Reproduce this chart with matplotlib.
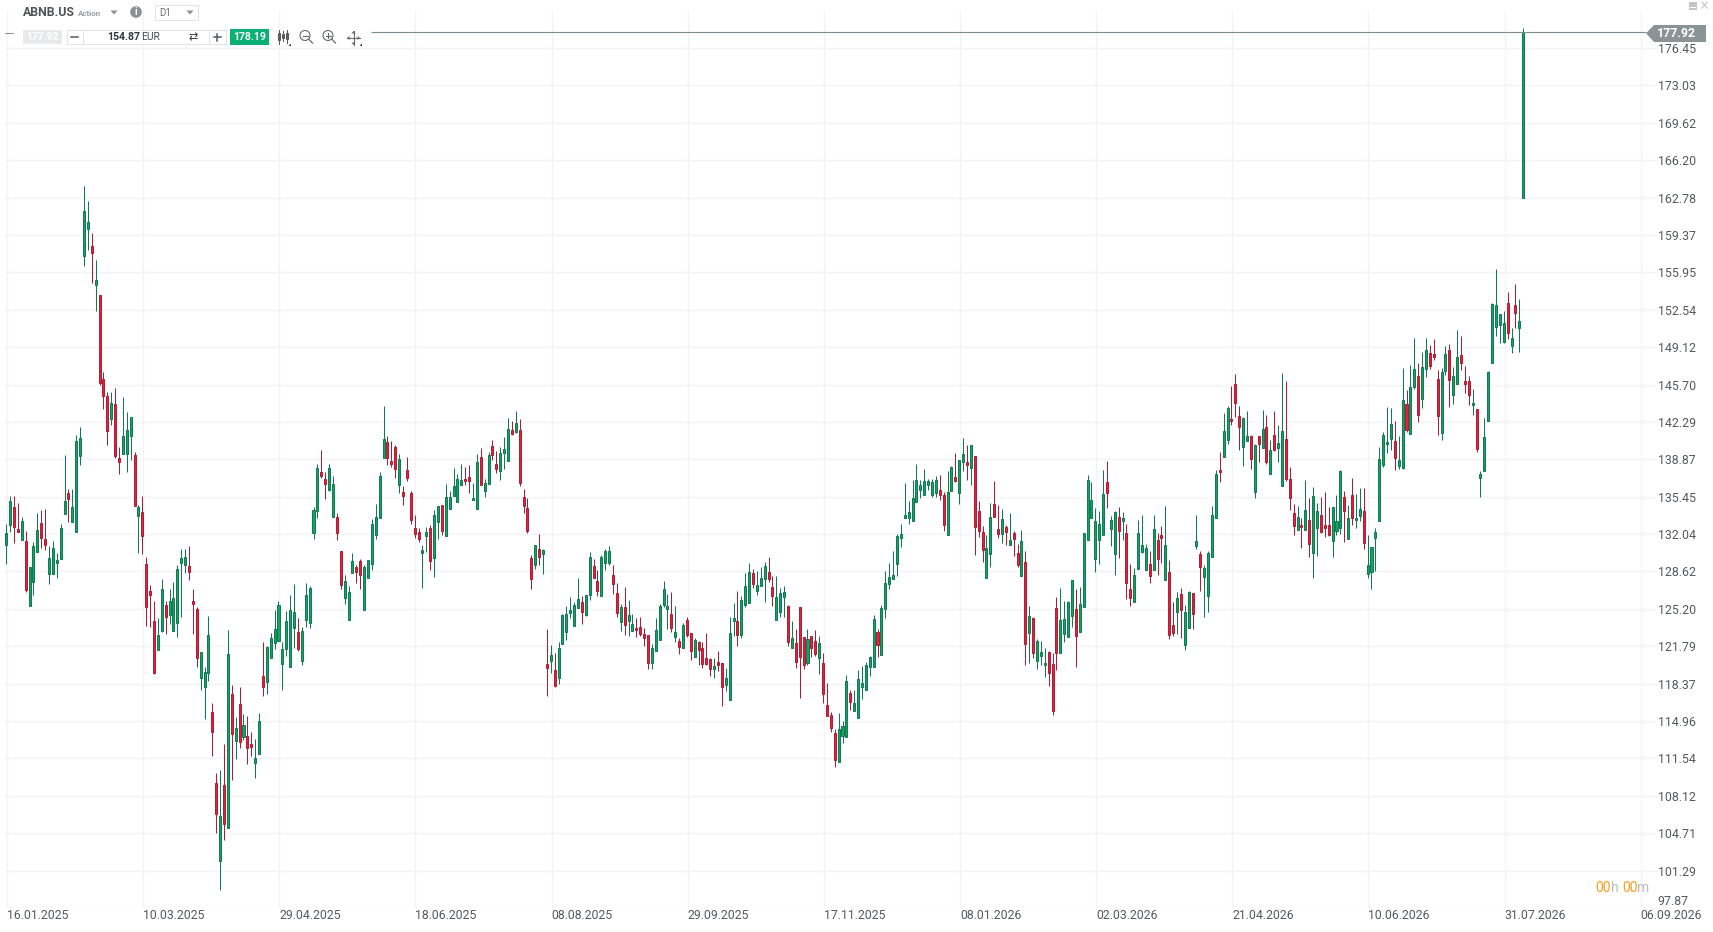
import matplotlib
matplotlib.use("Agg")
import matplotlib.pyplot as plt
from matplotlib.patches import Circle, Polygon, Rectangle

plt.rcParams["font.family"] = ["Roboto", "DejaVu Sans"]

price_ticks = [176.45, 173.03, 169.62, 166.20, 162.78, 159.37, 155.95, 152.54, 149.12, 145.70,
               142.29, 138.87, 135.45, 132.04, 128.62, 125.20, 121.79, 118.37, 114.96, 111.54,
               108.12, 104.71, 101.29, 97.87]
date_labels = ["16.01.2025", "10.03.2025", "29.04.2025", "18.06.2025", "08.08.2025", "29.09.2025",
               "17.11.2025", "08.01.2026", "02.03.2026", "21.04.2026", "10.06.2026", "31.07.2026",
               "06.09.2026"]
candles_per_label = 35

highs = [
    132.96,135.5,135.5,134.85,133.56,132.31,129.04,131.32,133.95,134.21,
    134.34,130.93,131.41,130.29,133.0,139.25,136.15,136.15,141.06,141.79,
    163.82,162.44,159.51,157.05,153.86,146.84,144.98,144.98,145.37,139.98,
    144.55,143.17,142.74,139.51,134.68,135.5,129.94,127.4,125.93,124.38,
    127.92,125.93,127.01,127.66,129.25,130.67,130.67,130.93,127.01,125.37,
    121.28,119.9,124.55,116.58,110.2,110.5,112.88,123.26,118.26,115.33,
    118.05,115.59,115.42,113.95,113.31,115.68,122.18,121.84,122.99,125.12,
    125.93,122.18,125.03,126.49,127.47,124.39,123.56,127.56,127.31,134.54,
    138.48,139.76,137.71,138.48,137.35,133.96,130.49,128.29,127.31,130.33,
    129.24,129.79,129.24,129.66,133.44,134.79,137.71,143.75,141.04,140.58,
    140.22,139.39,136.43,139.09,135.98,133.81,132.59,131.07,132.68,132.9,
    134.21,134.6,134.7,136.65,135.98,138.11,137.56,138.48,138.2,138.39,
    136.74,139.39,139.91,137.1,139.55,140.67,139.67,140.0,140.95,142.6,
    142.38,143.3,142.56,136.16,135.34,130.12,131.04,132.07,130.67,123.38,
    121.92,121.15,122.19,124.75,125.45,126.28,125.82,128.02,126.4,126.46,
    130.43,129.78,128.78,130.15,130.7,130.94,129.21,127.59,125.67,127.22,
    126.03,124.75,124.39,124.48,123.47,122.8,121.98,124.39,125.67,127.77,
    126.58,126.77,125.45,122.53,123.93,124.45,122.98,122.53,122.25,122.16,
    123.01,120.7,120.7,121.37,120.24,119.78,124.45,125.76,126.86,126.37,
    128.5,129.42,128.84,128.69,129.05,129.51,129.97,128.23,128.23,127.1,
    127.31,125.55,124.11,123.38,125.36,122.65,123.38,122.71,123.26,122.74,
    121.15,118.44,115.75,114.2,115.69,114.96,119.17,117.8,117.77,119.63,
    120.01,120.38,120.93,124.68,123.4,125.54,128.62,129.35,130.48,132.0,
    132.95,136.7,135.05,136.97,138.44,136.97,137.98,137.07,137.07,137.34,
    137.43,135.85,137.8,138.25,139.44,138.8,140.79,140.18,140.15,139.14,
    135.05,132.73,131.94,134.84,136.88,134.66,134.32,132.83,133.95,132.28,
    131.09,132.4,130.48,125.44,124.47,122.49,122.24,121.66,121.39,121.14,
    126.33,127.15,125.9,125.96,127.88,127.0,127.24,132.09,137.4,136.76,
    134.41,134.11,137.89,138.68,133.65,134.11,134.47,134.01,132.92,129.26,
    128.98,133.31,133.75,131.15,130.45,133.75,132.1,132.8,134.57,129.69,
    125.79,126.76,127.07,125.57,126.88,126.67,133.75,130.45,129.23,130.51,
    134.57,137.92,139.57,143.14,143.78,145.61,146.65,143.72,142.77,143.26,
    141.13,140.24,141.04,143.35,142.9,140.67,143.26,141.98,146.74,146.01,
    138.14,134.81,134.57,133.53,137.01,135.3,136.31,134.9,135.39,135.85,
    134.48,134.54,135.58,137.92,135.94,134.66,137.13,135.67,136.22,136.22,
    131.92,130.88,132.56,140.03,141.4,143.63,143.51,142.41,141.04,147.2,
    145.18,147.47,149.94,147.65,148.66,149.94,149.3,149.85,147.07,147.19,
    149.2,149.39,147.28,150.67,150.12,147.37,146.46,145.27,143.5,137.77,
    142.62,146.98,153.11,156.25,152.1,152.41,154.15,150.85,154.85,153.47,
    178.3,
]
lows = [
    129.34,132.27,131.23,132.18,131.45,126.71,125.42,126.45,130.42,130.8,
    130.55,127.49,128.35,128.05,129.73,133.91,133.17,133.17,132.27,138.35,
    156.53,157.96,154.98,152.44,145.67,143.48,140.16,142.01,139.0,137.53,
    139.38,137.7,138.82,134.64,130.29,130.2,123.65,123.56,119.21,121.41,
    123.13,122.92,123.82,123.22,122.66,124.43,128.52,127.87,122.92,119.9,
    117.83,115.16,118.65,111.75,104.73,99.47,104.08,105.16,109.56,111.5,
    112.49,113.22,111.02,111.75,109.77,111.97,117.23,117.44,120.67,121.54,
    122.31,117.83,120.94,119.93,121.64,121.31,120.03,123.56,123.41,131.55,
    133.48,137.14,135.28,135.95,133.57,131.46,126.98,125.61,124.14,128.44,
    127.59,126.98,125.06,127.99,128.78,131.55,133.48,138.97,138.32,138.14,
    137.14,135.83,134.67,136.86,132.93,131.65,131.28,127.13,130.37,128.78,
    128.14,131.55,131.92,131.86,134.33,135.52,134.97,136.53,136.56,135.83,
    135.15,134.33,136.49,135.4,136.59,138.84,137.59,136.95,137.99,138.72,
    141.13,141.25,136.4,133.93,132.1,126.98,128.81,129.17,128.35,117.28,
    119.32,118.1,118.32,121.95,122.4,124.33,123.62,125.27,123.84,124.54,
    125.97,127.99,126.34,126.34,128.72,129.18,126.52,124.48,123.14,122.83,
    122.68,123.14,122.62,122.68,121.85,119.75,119.75,121.34,122.4,125.33,
    123.32,123.05,122.16,121.12,121.61,122.62,120.57,120.76,120.03,119.84,
    120.03,119.08,118.93,119.57,116.37,117.74,116.91,122.68,121.85,122.5,
    125.36,125.73,127.13,126.43,127.25,125.79,127.62,125.48,124.23,124.45,
    124.42,121.79,121.61,119.84,117.1,119.75,120.03,120.76,120.94,119.29,
    116.64,115.39,113.99,110.78,111.24,112.98,113.53,115.97,115.91,115.21,
    116.97,117.79,119.07,119.92,120.81,120.99,124.38,127.03,127.95,128.22,
    130.87,133.53,132.98,133.25,134.93,135.36,135.63,136.09,135.42,135.42,
    135.17,132.31,131.97,135.98,136.79,134.81,137.83,137.0,136.55,130.14,
    131.79,129.5,128.04,129.04,133.56,131.7,131.24,131.06,131.06,130.05,
    129.04,128.22,120.08,120.26,120.72,119.71,120.08,118.98,118.16,115.5,
    119.62,121.17,122.18,122.64,123.55,119.89,123.13,125.41,131.54,133.47,
    128.59,129.32,131.91,134.44,130.97,128.31,129.87,131.51,126.12,125.47,
    125.87,128.89,130.27,128.77,127.55,128.77,128.29,129.38,127.86,122.43,
    122.7,122.89,122.52,121.42,123.47,123.35,130.63,126.82,124.44,124.9,
    129.93,133.53,136.8,139.11,140.27,142.04,142.74,139.72,138.26,140.58,
    137.99,135.33,138.63,139.94,138.44,137.56,139.66,138.63,136.46,136.89,
    134.2,131.95,132.43,130.76,132.43,129.93,128.01,130.03,132.16,131.76,
    131.85,129.93,131.98,132.01,131.31,131.61,132.89,132.62,133.26,130.67,
    128.04,126.98,128.65,133.26,138.17,139.45,139.72,137.89,138.02,138.02,
    141.34,141.22,145.3,142.28,143.53,146.37,147.1,147.92,141.1,140.63,
    146.58,143.65,143.93,145.79,147.04,144.93,143.84,142.92,139.54,135.42,
    137.8,142.37,147.68,150.12,149.48,149.48,149.85,148.56,150.85,148.69,
    162.78,
]
opens = [
    131.06,132.83,134.51,132.49,131.45,131.41,125.42,127.7,130.42,133.05,
    131.58,128.35,128.35,129.43,129.73,133.91,135.76,133.17,132.27,139.21,
    157.48,159.94,158.34,154.81,153.86,146.19,144.64,142.57,143.91,139.0,
    139.38,139.38,141.02,139.25,133.73,134.04,129.29,126.84,124.08,121.41,
    123.22,125.54,124.6,123.22,123.95,129.38,129.25,129.12,125.93,125.2,
    118.91,118.09,119.38,115.76,109.3,102.14,109.13,105.16,117.44,113.09,
    116.49,113.52,113.61,112.87,111.15,111.97,119.08,118.56,120.67,122.06,
    122.31,120.2,121.49,119.93,123.41,123.11,120.48,124.23,123.87,132.1,
    134.12,137.71,137.07,136.04,133.57,133.6,130.49,126.16,124.14,128.44,
    129.05,129.57,125.06,127.99,129.27,131.92,133.48,138.97,140.46,138.72,
    140.0,136.49,135.89,137.9,135.79,132.59,132.23,130.3,131.83,132.59,
    129.82,133.11,134.7,131.86,134.33,135.52,134.97,136.53,137.07,137.26,
    135.15,134.33,139.09,135.98,136.59,140.09,138.45,137.81,139.45,138.72,
    141.56,141.37,141.56,135.43,134.42,129.85,129.17,130.67,130.18,120.15,
    120.48,119.6,118.87,121.95,123.08,124.87,123.62,125.27,125.82,124.6,
    126.43,129.11,127.74,126.34,129.39,129.36,128.29,126.64,123.96,125.36,
    124.05,123.14,123.44,123.53,122.89,122.8,120.3,121.34,122.4,125.52,
    125.15,124.72,122.62,122.25,121.61,124.17,122.98,120.76,122.16,121.61,
    120.7,120.6,119.75,120.33,120.24,118.29,116.91,124.08,124.08,122.86,
    125.52,125.73,128.47,126.8,127.25,127.89,128.56,127.19,124.23,124.9,
    126.28,125.45,121.61,122.07,125.36,122.62,120.3,122.71,122.25,120.7,
    120.24,116.39,115.48,113.83,111.24,113.62,113.53,117.52,115.91,115.27,
    118.06,117.79,119.89,119.92,123.13,120.99,125.2,127.49,127.95,129.26,
    131.7,133.53,133.53,133.25,134.93,136.09,135.63,136.55,135.63,135.81,
    136.03,135.57,131.97,135.98,137.22,135.81,138.59,138.59,138.1,139.14,
    134.11,132.19,128.04,130.23,134.75,132.46,132.06,132.64,131.06,132.09,
    130.35,128.22,129.44,123.0,124.41,120.44,120.9,120.08,121.3,120.2,
    125.32,121.17,122.91,122.64,124.56,125.23,123.13,125.41,131.54,133.47,
    129.78,131.45,131.91,136.76,132.46,130.17,133.56,133.19,132.09,127.06,
    125.87,128.89,130.39,128.77,129.32,128.77,131.52,131.98,127.86,128.59,
    123.74,124.93,126.58,121.88,123.47,126.67,130.94,130.24,128.1,126.37,
    129.93,133.53,137.92,139.11,140.67,142.59,145.79,142.87,140.03,140.58,
    141.04,135.88,141.04,139.94,141.86,137.56,141.13,139.94,136.46,140.76,
    137.1,133.99,132.43,132.89,132.43,133.35,130.33,132.62,133.81,132.89,
    132.89,131.43,132.34,132.62,135.45,131.61,135.64,133.32,133.72,134.17,
    128.38,128.56,131.7,133.26,138.35,140.3,140.76,140.58,138.29,138.11,
    143.96,141.22,145.48,146.52,144.39,147.13,148.62,148.53,146.25,141.27,
    146.98,148.9,144.75,145.79,148.44,146.06,146.06,143.84,143.5,137.16,
    137.8,142.37,147.68,150.97,151.16,149.6,153.11,149.24,152.93,150.88,
    162.78,
]
closes = [
    132.14,135.07,132.7,132.23,133.22,126.97,129.04,130.93,132.4,131.71,
    131.06,129.86,130.76,129.69,132.57,135.07,135.2,134.51,140.54,140.8,
    161.53,160.54,157.74,155.24,145.85,144.68,141.41,143.99,139.17,138.61,
    140.98,141.54,142.74,134.64,134.51,131.88,125.33,126.45,119.38,122.83,
    127.01,124.43,125.93,126.19,128.82,129.86,129.9,128.6,125.68,120.67,
    121.28,119.43,122.83,113.91,106.5,106.28,105.5,121.06,113.74,114.3,
    113.05,114.6,112.53,112.62,111.58,114.94,118.09,121.71,122.53,123.35,
    125.54,121.54,124.11,125.09,124.9,121.49,123.17,126.46,127.1,134.24,
    138.08,137.32,136.59,138.08,136.62,132.1,127.35,127.74,126.74,129.57,
    128.53,128.26,129.02,129.66,132.99,133.6,137.35,140.73,138.97,138.42,
    137.96,138.9,135.52,137.14,133.29,132.04,131.55,130.58,132.23,129.54,
    133.81,134.6,132.29,135.43,135.43,136.43,137.07,136.95,136.86,136.86,
    135.34,138.63,136.49,136.71,139.27,139.27,137.99,139.45,139.82,141.65,
    141.22,142.2,136.68,134.6,132.29,127.92,131.04,129.91,130.58,119.84,
    120.97,118.2,121.61,124.63,124.72,125.09,125.51,126.1,124.9,126.46,
    129.94,127.99,126.8,129.94,130.49,130.49,127.44,124.78,125.36,123.69,
    124.63,123.81,123.23,122.95,122.5,120.24,121.61,123.26,125.45,127.01,
    125.45,123.41,123.08,121.7,123.72,122.8,121.34,122.34,121.43,120.12,
    120.21,119.75,119.97,120.03,118.1,118.87,122.98,124.36,122.8,126.0,
    127.28,128.56,127.47,127.38,128.02,129.11,127.96,126.34,126.28,126.64,
    126.73,122.22,122.53,120.39,120.76,120.03,122.43,121.61,121.12,122.07,
    117.46,115.39,114.35,111.42,114.2,114.47,118.59,116.73,116.61,118.8,
    118.46,120.11,120.84,124.32,121.91,125.32,127.52,128.07,128.34,131.82,
    132.0,133.74,134.02,135.3,136.94,136.52,136.85,136.88,136.76,136.94,
    135.63,132.89,135.85,138.13,136.88,138.77,139.32,138.38,140.15,132.7,
    132.34,130.6,130.72,133.56,133.62,132.06,133.37,132.19,131.54,131.6,
    129.23,131.36,121.96,124.59,121.17,122.3,121.3,120.29,119.34,115.87,
    121.17,124.22,124.32,125.87,127.88,122.73,125.69,132.09,136.94,135.11,
    133.19,133.0,135.66,135.75,133.28,134.02,132.34,133.47,127.61,126.24,
    128.34,132.09,131.06,130.79,128.2,132.53,129.75,131.67,131.06,122.83,
    122.98,126.21,125.11,124.93,126.76,124.72,131.37,129.02,128.96,130.33,
    133.81,137.56,137.71,141.49,143.6,142.38,144.05,141.86,142.68,141.04,
    138.93,140.21,140.3,141.6,138.66,139.75,139.75,140.39,141.49,137.07,
    135.33,132.77,133.62,132.71,134.26,131.12,135.55,134.17,132.25,132.62,
    131.95,134.54,133.26,137.83,134.14,133.53,133.53,133.53,134.36,131.25,
    129.23,130.88,132.25,138.93,141.13,140.49,142.13,139.02,138.84,144.33,
    141.58,145.52,147.16,142.92,147.34,148.9,147.41,148.23,142.83,146.8,
    148.53,146.15,146.52,148.26,147.71,145.76,144.75,144.05,139.81,137.55,
    140.94,146.8,153.02,152.93,152.1,151.28,150.42,149.91,152.25,151.55,
    177.92,
]

GREEN_FILL, GREEN_EDGE = "#14a364", "#0e7a50"
RED_FILL, RED_EDGE = "#e81f3c", "#ad1c34"
GRID = "#f2f3f4"
TEXT = "#55595e"

fig = plt.figure(figsize=(17.13, 9.32), dpi=100)
ax = fig.add_axes([5 / 1713, 1 - 908 / 932, 1652 / 1713, 897 / 932])
ax.set_xlim(-0.514, 424.2)
ax.set_ylim(97.87, 179.83)
for side in ax.spines.values():
    side.set_visible(False)

ax.set_axisbelow(True)
ax.grid(True, color=GRID, linewidth=1.0)
ax.set_xticks([n * candles_per_label for n in range(len(date_labels))])
ax.set_xticklabels(date_labels, ha="left", fontsize=8.8, color=TEXT)
ax.yaxis.tick_right()
ax.set_yticks(price_ticks)
ax.set_yticklabels([f"{p:.2f}" for p in price_ticks], fontsize=8.9, color=TEXT)
ax.tick_params(axis="x", length=0, pad=1)
ax.tick_params(axis="y", length=0, pad=0.5)
ax.get_yticklabels()[-1].set_verticalalignment("bottom")

# candles, pulled a little left to sit on the same pixels as the reference
for i in range(len(closes)):
    up = closes[i] >= opens[i]
    fill, edge = (GREEN_FILL, GREEN_EDGE) if up else (RED_FILL, RED_EDGE)
    ax.vlines(i - 0.2, lows[i], highs[i], color=edge, linewidth=0.72, zorder=3)
    ax.bar(i - 0.2, abs(closes[i] - opens[i]), bottom=min(opens[i], closes[i]), width=0.52,
           color=fill, edgecolor=edge, linewidth=0.7, zorder=4)

# current price line
ax.hlines(closes[-1], 93.6, 421.4, color="#7f8c8d", linewidth=0.8, zorder=5)

# toolbar and labels, placed in screen pixels
ui = fig.add_axes([0, 0, 1, 1])
ui.set_xlim(0, 1713)
ui.set_ylim(932, 0)
ui.axis("off")
ui.patch.set_alpha(0)


def box(x0, y0, x1, y1, face="white", edge="none", lw=0.7):
    ui.add_patch(Rectangle((x0, y0), x1 - x0, y1 - y0, facecolor=face, edgecolor=edge, linewidth=lw))


def label(x, y, s, size=8, color=TEXT, weight="normal", ha="left"):
    ui.text(x, y, s, fontsize=size, color=color, fontweight=weight, ha=ha, va="center")


def arrow_down(x, y, w=7, h=4, color="#8a8f94"):
    ui.add_patch(Polygon([(x - w / 2, y), (x + w / 2, y), (x, y + h)], facecolor=color, edgecolor="none"))


label(23, 12, "ABNB.US", size=8.8, color="#4e5358", weight="bold")
label(78, 13.5, "Action", size=5.8, color="#9a9ea2", weight="bold")
arrow_down(114, 10.5)
ui.add_patch(Circle((136, 12), 5.8, facecolor="#8a8f94", edgecolor="none"))
label(136, 12, "i", size=7, color="white", weight="bold", ha="center")
box(154.5, 4.5, 197.5, 19.5, edge="#e2e3e5")
label(159, 12.5, "D1", size=7, color="#6c7075")
arrow_down(190, 10.5)

ui.plot([5, 13], [33, 33], color="#8a8f94", linewidth=0.7)
box(23, 30, 62, 44, face="#e8e9ea")
label(42.5, 37, "177.92", size=7.4, color="white", weight="bold", ha="center")
box(66.5, 29.5, 225.5, 44, edge="#e2e3e5")
ui.plot([83, 83], [30, 44], color="#e2e3e5", linewidth=0.7)
ui.plot([209, 209], [30, 44], color="#e2e3e5", linewidth=0.7)
ui.plot([71, 78], [37, 37], color="#55595e", linewidth=1.1)
label(107, 36.8, "154.87", size=7.6, color="#33373b", weight="bold")
label(141, 36.8, "EUR", size=7.4, color="#44484c")
label(193, 37, "\u21c4", size=8, color="#33373b", ha="center")
ui.plot([213.5, 220.5], [37, 37], color="#55595e", linewidth=1.1)
ui.plot([217, 217], [33.5, 40.5], color="#55595e", linewidth=1.1)
box(230, 29, 269, 44.5, face="#0bb075")
label(249.5, 36.8, "178.19", size=7.6, color="white", weight="bold", ha="center")

# candle, zoom and move icons
for xi, y0, y1, yb0, yb1 in [(279, 30, 44, 33, 40), (283, 31, 41, 34, 38), (287, 30, 43, 33, 39)]:
    ui.plot([xi, xi], [y0, y1], color="#55595e", linewidth=0.7)
    box(xi - 1.2, yb0, xi + 1.2, yb1, edge="#55595e", lw=0.7)
for cx, plus in [(305, False), (328, True)]:
    ui.add_patch(Circle((cx, 35.5), 5, facecolor="none", edgecolor="#66696e", linewidth=0.8))
    ui.plot([cx + 3.6, cx + 7.5], [39, 43], color="#66696e", linewidth=0.9)
    ui.plot([cx - 2.5, cx + 2.5], [35.5, 35.5], color="#66696e", linewidth=0.8)
    if plus:
        ui.plot([cx, cx], [33, 38], color="#66696e", linewidth=0.8)
ui.plot([347, 360], [38, 38], color="#66696e", linewidth=0.8)
ui.plot([353.5, 353.5], [31, 45], color="#66696e", linewidth=0.8)
for pts in [[(347, 38), (349.5, 36), (349.5, 40)], [(360, 38), (357.5, 36), (357.5, 40)],
            [(353.5, 31), (351.5, 33.5), (355.5, 33.5)], [(353.5, 45), (351.5, 42.5), (355.5, 42.5)]]:
    ui.add_patch(Polygon(pts, facecolor="#66696e", edgecolor="none"))
for x in (291, 362):
    ui.add_patch(Polygon([(x, 46), (x, 43.5), (x - 2.5, 46)], facecolor="#33373b", edgecolor="none"))

# current price tag
ui.add_patch(Polygon([(1646, 33.3), (1654, 25), (1706, 25), (1706, 42), (1654, 42)],
                     facecolor="#8a9396", edgecolor="none"))
label(1657, 33.6, "177.92", size=8.9, color="white", weight="bold")

# window buttons
box(1688.5, 1.5, 1696.5, 9.5, face="#c4c6c8")
box(1689.5, 6.5, 1695.5, 8, face="white")
ui.plot([1702, 1707], [2, 8], color="#c4c6c8", linewidth=0.9)
ui.plot([1702, 1707], [8, 2], color="#c4c6c8", linewidth=0.9)

# countdown
label(1595, 888, "00", size=10, color="#ff9c1a")
label(1610.7, 888, "h", size=10, color="#b9bbbd")
label(1622.7, 888, "00", size=10, color="#ff9c1a")
label(1637.3, 888, "m", size=10, color="#b9bbbd")

fig.savefig("out.png", dpi=100)
